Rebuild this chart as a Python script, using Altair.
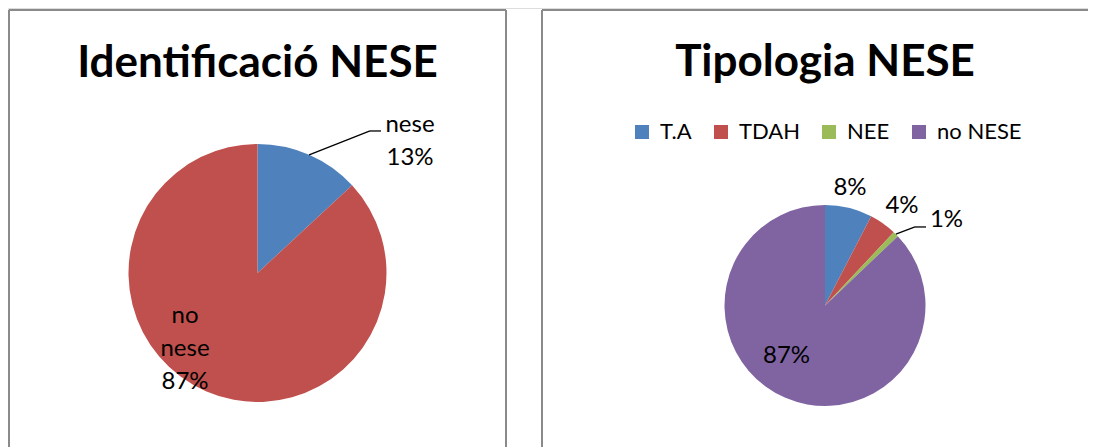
import math
import altair as alt
import pandas as pd

# ---------------- data ----------------
title1 = "Identificació NESE"
cats1 = ["nese", "no nese"]
vals1 = [13.1, 86.9]
colors1 = ["#4F81BD", "#C0504D"]

title2 = "Tipologia NESE"
cats2 = ["T.A", "TDAH", "NEE", "no NESE"]
vals2 = [7.6, 4.4, 0.9, 87.1]
colors2 = ["#4F81BD", "#C0504D", "#9BBB59", "#8064A2"]

# ---------------- style ----------------
FONT = "Lato"
W, H = 1080, 439
C1, R1 = (249.5, 265.0), 129
C2, R2 = (817.0, 297.5), 100.5
FRAME = "#8a8a8a"
LABEL_SIZE = 24
LEGEND_SIZE = 22
TITLE_SIZE = 44

df1 = pd.DataFrame({"cat": cats1, "value": vals1, "order": list(range(len(cats1)))})
df2 = pd.DataFrame({"cat": cats2, "value": vals2, "order": list(range(len(cats2)))})
one = pd.DataFrame({"k": [0]})

theta_scale = alt.Scale(domain=[0, 100])


def pie(df, cats, colors, c, r, legend):
    return alt.Chart(df).mark_arc(outerRadius=r).encode(
        theta=alt.Theta("value:Q", stack=True, scale=theta_scale),
        color=alt.Color("cat:N", scale=alt.Scale(domain=cats, range=colors), legend=legend),
        order=alt.Order("order:Q"),
        x=alt.value(c[0]),
        y=alt.value(c[1]),
    )


def label(df, cat, c, radius, dx, dy, with_cat):
    expr = ("datum.cat + ' ' + " if with_cat else "") + "format(datum.value, '.0f') + '%'"
    return (
        alt.Chart(df)
        .transform_window(cum="sum(value)", sort=[alt.SortField("order")])
        .transform_calculate(mid="datum.cum - datum.value / 2", label=expr)
        .transform_filter(alt.datum.cat == cat)
        .mark_text(radius=radius, dx=dx, dy=dy, align="center", baseline="alphabetic",
                   lineBreak=" ", lineHeight=33, fontSize=LABEL_SIZE, font=FONT, color="black")
        .encode(theta=alt.Theta("mid:Q", scale=theta_scale),
                x=alt.value(c[0]), y=alt.value(c[1]), text="label:N")
    )


def anchor(vals, idx, c, radius, dx, dy):
    m = sum(vals[:idx]) + vals[idx] / 2
    a = 2 * math.pi * m / 100
    return (c[0] + radius * math.sin(a) + dx, c[1] - radius * math.cos(a) + dy)


def rule(x, y, x2, y2, color=FRAME, width=2):
    return alt.Chart(one).mark_rule(color=color, strokeWidth=width).encode(
        x=alt.value(x), y=alt.value(y), x2=alt.value(x2), y2=alt.value(y2))


def title(text, x, y):
    return alt.Chart(one).mark_text(text=text, font=FONT, fontSize=TITLE_SIZE, fontWeight="bold",
                                    align="center", baseline="alphabetic", color="black").encode(
        x=alt.value(x), y=alt.value(y))


legend2 = alt.Legend(orient="none", legendX=623, legendY=113, direction="horizontal", title=None,
                     symbolType="square", symbolSize=196, symbolStrokeWidth=0,
                     labelFontSize=LEGEND_SIZE, labelFont=FONT, labelColor="black",
                     labelOffset=7, columnPadding=18, padding=0)

# label placement (radius, dx, dy)
lab1 = {"nese": (R1 + 30, 88.9, 4.7), "no nese": (0.6 * R1, -41.5, -20.9)}
lab2 = {"T.A": (R2 + 15, -2.3, 1.7), "TDAH": (R2 + 15, 10.3, 1.8),
        "NEE": (R2 + 15, 40.1, 3.4), "no NESE": (0.6 * R2, -14.7, 2.1)}

layers = [
    # frames
    rule(1, 2, 498, 2), rule(1, 2, 1, H), rule(498, 2, 498, H),
    rule(534, 2, W, 2), rule(534, 2, 534, H),
    title(title1, C1[0], 69),
    title(title2, C2[0], 68),
    pie(df1, cats1, colors1, C1, R1, None),
    pie(df2, cats2, colors2, C2, R2, legend2),
]
for cat, (r, dx, dy) in lab1.items():
    layers.append(label(df1, cat, C1, r, dx, dy, True))
for cat, (r, dx, dy) in lab2.items():
    layers.append(label(df2, cat, C2, r, dx, dy, False))

# leader lines
s1 = anchor(vals1, 0, C1, R1, 0, 0)
a1 = anchor(vals1, 0, C1, *lab1["nese"])
layers += [rule(s1[0], s1[1], a1[0] - 40, a1[1] - 1, "black", 1.3),
           rule(a1[0] - 40, a1[1] - 1, a1[0] - 29, a1[1] - 1, "black", 1.3)]
s2 = anchor(vals2, 2, C2, R2, 0, 0)
a2 = anchor(vals2, 2, C2, *lab2["NEE"])
layers += [rule(s2[0], s2[1], a2[0] - 31.5, a2[1], "black", 1.3),
           rule(a2[0] - 31.5, a2[1], a2[0] - 20.5, a2[1], "black", 1.3)]

chart = (
    alt.layer(*layers)
    .resolve_scale(color="independent")
    .properties(width=W, height=H, padding=0, autosize=alt.AutoSizeParams(type="none"))
    .configure_view(stroke=None)
    .configure(font=FONT)
)

chart.save("out.html", embed_options={"renderer": "svg", "actions": False})
